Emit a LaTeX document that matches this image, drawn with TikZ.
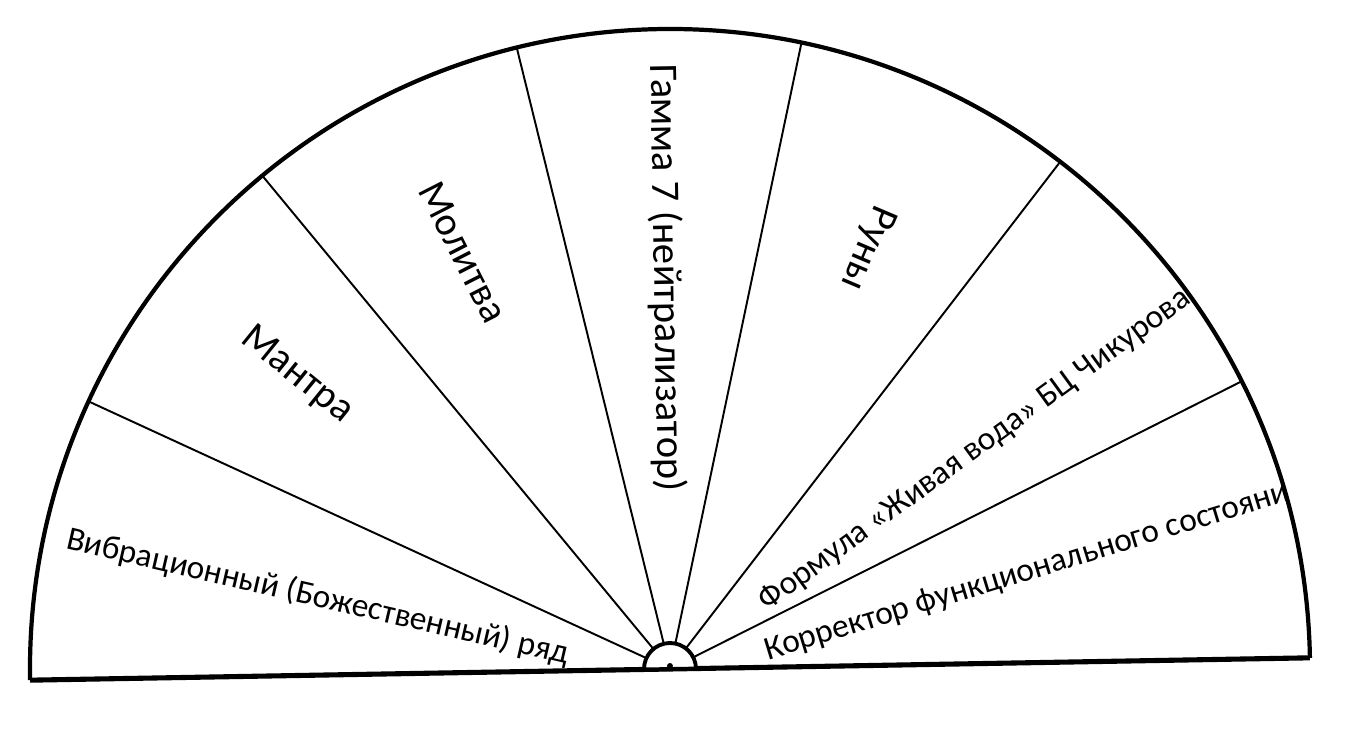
\documentclass[tikz,border=0pt]{standalone}
\usepackage{fontspec}
\setmainfont{Carlito}
\begin{document}
\begin{tikzpicture}[x=0.02cm,y=0.02cm,
  spoke/.style={line width=1.1pt},
  rim/.style={line width=2.4pt},
  base/.style={line width=2.9pt},
  hub/.style={line width=2.2pt, fill=white},
  lbl/.style={inner sep=0pt, font=\fontsize{19}{23}\selectfont},
  biglbl/.style={inner sep=0pt, font=\fontsize{23}{27}\selectfont}]
\useasboundingbox (0,0) rectangle (1364,730);
\begin{scope}[shift={(670,61)}, rotate=1]
  \coordinate (c) at (0,0);
  \coordinate (L) at (-640,0);
  \coordinate (R) at (640,0);
  \draw[rim] (R) arc[start angle=0,end angle=180,radius=640];
  \draw[base] (L) -- (R);
  \foreach \i in {1,...,6} {
    \coordinate (p\i) at ({180/7*\i}:640);
    \coordinate (q\i) at ({180/7*\i}:26);
    \draw[spoke] (q\i) -- (p\i);
  }
  \draw[hub] (26,0) arc[start angle=0,end angle=180,radius=26] -- cycle;
  \fill (c) ++(0,3) circle (3);
\end{scope}
\node[lbl, rotate=-13] (t1) at (318,133) {Вибрационный (Божественный) ряд};
\node[biglbl, rotate=-39] (t2) at (297,355) {Мантра};
\node[biglbl, rotate=-63] (t3) at (463,478) {Молитва};
\node[biglbl, rotate=-89] (t4) at (666,452) {Гамма 7 (нейтрализатор)};
\node[biglbl, rotate=-113] (t5) at (867,482) {Руны};
\node[lbl, rotate=36] (t6) at (975,280) {Формула «Живая вода» БЦ Чикурова};
\node[lbl, rotate=17] (t7) at (1027,158) {Корректор функционального состояни};
\end{tikzpicture}
\end{document}
